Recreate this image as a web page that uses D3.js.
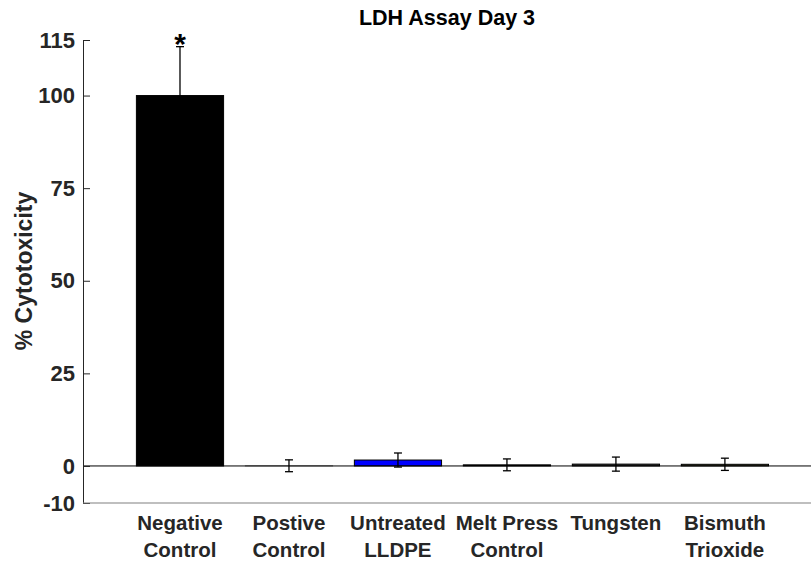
<!DOCTYPE html>
<html>
<head>
<meta charset="utf-8">
<script src="https://cdn.jsdelivr.net/npm/d3@7"></script>
<style>
  html, body { margin: 0; padding: 0; background: #fff; }
  text { font-family: "Liberation Sans", Arial, Helvetica, sans-serif; font-weight: bold; fill: #262626; }
</style>
</head>
<body>
<svg id="chart" width="811" height="565"></svg>
<script>
// LDH assay, day 3: mean % cytotoxicity per material with error bars
const categories = [
  ["Negative", "Control"],
  ["Postive", "Control"],
  ["Untreated", "LLDPE"],
  ["Melt Press", "Control"],
  ["Tungsten", ""],
  ["Bismuth", "Trioxide"]
];
const values = [100, 0.05, 1.6, 0.3, 0.5, 0.45];
const errors = [13.2, 1.6, 1.9, 1.6, 1.9, 1.65];
const barColors = ["#000000", "#808080", "#0000ff", "#000000", "#333333", "#4d4a30"];
const significant = [true, false, false, false, false, false];
const yTicks = [-10, 0, 25, 50, 75, 100, 115];

const svg = d3.select("#chart");
const plotLeft = 83, plotRight = 811, plotTop = 40, plotBottom = 503;

const y = d3.scaleLinear().domain([-10, 115]).range([plotBottom, plotTop]);
// bar positions in category units; axis starts a little before the first bar
const x = d3.scaleLinear().domain([0.11, 6.79]).range([plotLeft, plotRight]);
const barW = x(1.8) - x(1);

// bars
const bars = svg.append("g");
values.forEach((v, i) => {
  const cx = x(i + 1);
  const y0 = y(0), y1 = y(v);
  bars.append("rect")
    .attr("x", cx - barW / 2)
    .attr("y", Math.min(y0, y1))
    .attr("width", barW)
    .attr("height", Math.max(Math.abs(y0 - y1), 0.01))
    .attr("fill", barColors[i])
    .attr("stroke", i === 1 ? "#808080" : "#000")
    .attr("stroke-width", 1);
});

// zero line
svg.append("line")
  .attr("x1", plotLeft).attr("x2", plotRight)
  .attr("y1", y(0)).attr("y2", y(0))
  .attr("stroke", "#000").attr("stroke-width", 1);

// error bars
const eb = svg.append("g").attr("stroke", "#000").attr("stroke-width", 1.3);
values.forEach((v, i) => {
  const cx = x(i + 1);
  const hi = y(v + errors[i]), lo = y(v - errors[i]);
  eb.append("line").attr("x1", cx).attr("x2", cx).attr("y1", hi).attr("y2", lo);
  eb.append("line").attr("x1", cx - 4).attr("x2", cx + 4).attr("y1", hi).attr("y2", hi);
  eb.append("line").attr("x1", cx - 4).attr("x2", cx + 4).attr("y1", lo).attr("y2", lo);
});

// significance markers
values.forEach((v, i) => {
  if (!significant[i]) return;
  svg.append("text")
    .attr("x", x(i + 1))
    .attr("y", y(v + errors[i]) + 7)
    .attr("text-anchor", "middle")
    .style("font-size", "30px")
    .style("fill", "#000")
    .text("*");
});

// y axis with inward ticks
const yAxis = d3.axisLeft(y).tickValues(yTicks).tickFormat(d => String(d))
  .tickSizeInner(-7).tickSizeOuter(0).tickPadding(8);
const ya = svg.append("g").attr("transform", `translate(${plotLeft},0)`).call(yAxis);
ya.select(".domain").attr("stroke", "#262626");
ya.selectAll(".tick line").attr("stroke", "#262626");
ya.selectAll(".tick text")
  .style("font-size", "22px")
  .style("font-family", "'Liberation Sans', Arial, sans-serif")
  .style("font-weight", "bold")
  .attr("fill", "#262626");

// bottom axis line (no ticks)
svg.append("line")
  .attr("x1", plotLeft).attr("x2", plotRight)
  .attr("y1", plotBottom).attr("y2", plotBottom)
  .attr("stroke", "#808080").attr("stroke-width", 1.2);

// category labels
const lab = svg.append("g");
categories.forEach((c, i) => {
  const t = lab.append("text")
    .attr("x", x(i + 1))
    .attr("y", 530)
    .attr("text-anchor", "middle")
    .style("font-size", "20.5px");
  c.forEach((line, k) => {
    if (!line) return;
    t.append("tspan").attr("x", x(i + 1)).attr("dy", k === 0 ? 0 : 27).text(line);
  });
});

// y label
svg.append("text")
  .attr("transform", `translate(32,271) rotate(-90)`)
  .attr("text-anchor", "middle")
  .style("font-size", "23px")
  .text("% Cytotoxicity");

// title
svg.append("text")
  .attr("x", (plotLeft + plotRight) / 2)
  .attr("y", 25)
  .attr("text-anchor", "middle")
  .style("font-size", "21.5px")
  .style("fill", "#000")
  .text("LDH Assay Day 3");
</script>
</body>
</html>
